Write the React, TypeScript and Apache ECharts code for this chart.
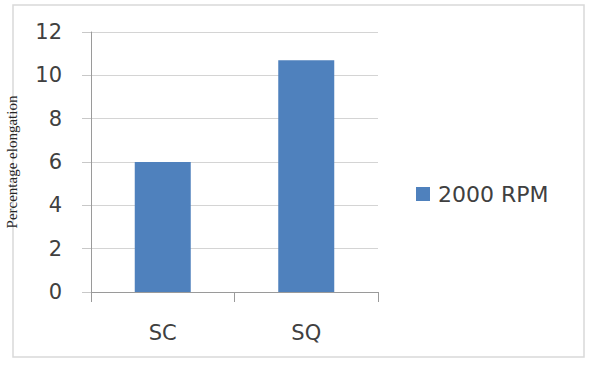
import React, { useEffect, useRef } from "react";
import * as echarts from "echarts";

const categories = ["SC", "SQ"];
const seriesName = "2000 RPM";
const values = [6.0, 10.7];
const yTicks = { min: 0, max: 12, interval: 2 };
const yAxisTitle = "Percentage elongation";

export default function App() {
  const ref = useRef<HTMLDivElement>(null);
  useEffect(() => {
    if (!ref.current) return;
    const chart = echarts.init(ref.current, null, { renderer: "svg" });
    chart.setOption({
      animation: false,
      backgroundColor: "#ffffff",
      graphic: [
        {
          type: "rect",
          shape: { x: 13, y: 5, width: 571, height: 352 },
          style: { fill: "none", stroke: "#d9d9d9", lineWidth: 1.5 },
          silent: true,
        },
      ],
      grid: { left: 91, top: 32, right: 214, bottom: 73, containLabel: false },
      legend: {
        data: [seriesName],
        orient: "vertical",
        left: 411,
        top: 178,
        icon: "rect",
        itemWidth: 14,
        itemHeight: 14,
        textStyle: {
          fontFamily: "DejaVu Sans",
          fontSize: 22,
          color: "#404040",
          padding: [0, 0, 0, 3],
        },
      },
      xAxis: {
        type: "category",
        data: categories,
        boundaryGap: true,
        axisLine: { show: true, lineStyle: { color: "#9a9a9a", width: 1 } },
        axisTick: { show: true, length: 10, lineStyle: { color: "#9a9a9a" } },
        axisLabel: {
          margin: 30,
          fontFamily: "DejaVu Sans",
          fontSize: 21,
          color: "#404040",
        },
      },
      yAxis: {
        type: "value",
        min: yTicks.min,
        max: yTicks.max,
        interval: yTicks.interval,
        name: yAxisTitle,
        nameLocation: "middle",
        nameRotate: 90,
        nameGap: 72,
        nameTextStyle: {
          fontFamily: "Liberation Serif",
          fontSize: 15,
          color: "#262626",
        },
        axisLine: { show: true, lineStyle: { color: "#9a9a9a", width: 1 } },
        axisTick: { show: true, length: 9, lineStyle: { color: "#c8c8c8" } },
        axisLabel: {
          margin: 29,
          fontFamily: "DejaVu Sans",
          fontSize: 21,
          color: "#404040",
        },
        splitLine: { show: true, lineStyle: { color: "#d4d4d4", width: 1 } },
      },
      series: [
        {
          name: seriesName,
          type: "bar",
          data: values,
          barWidth: 56,
          itemStyle: { color: "#4f81bd" },
        },
      ],
    });
    return () => chart.dispose();
  }, []);
  return (
    <div
      ref={ref}
      style={{ position: "fixed", left: 0, top: 0, width: 592, height: 365 }}
    />
  );
}
